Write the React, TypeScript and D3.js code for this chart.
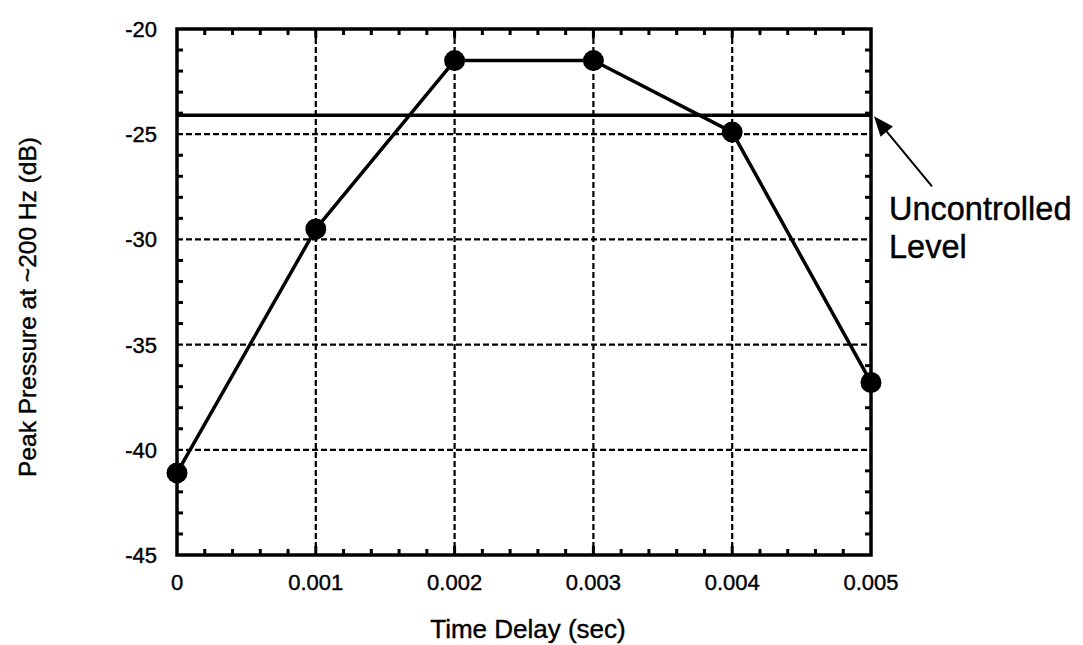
import React from "react";
import * as d3 from "d3";

const delays = [0, 0.001, 0.002, 0.003, 0.004, 0.005];
const pressures = [-41.1, -29.5, -21.5, -21.5, -24.9, -36.8];
const uncontrolledLevel = -24.1;
const xTicks = [0, 0.001, 0.002, 0.003, 0.004, 0.005];
const xTickLabels = ["0", "0.001", "0.002", "0.003", "0.004", "0.005"];
const yTicks = [-45, -40, -35, -30, -25, -20];
const yTickLabels = ["-45", "-40", "-35", "-30", "-25", "-20"];

const W = 1083;
const H = 645;
const L = 177, R = 871, T = 29, B = 555;
const FONT = "'Liberation Sans', Arial, Helvetica, sans-serif";

export default function App() {
  const x = d3.scaleLinear().domain([0, 0.005]).range([L, R]);
  const y = d3.scaleLinear().domain([-45, -20]).range([B, T]);
  const line = d3
    .line<number>()
    .x((_, i) => x(delays[i]))
    .y((d) => y(d));

  const xMinor = d3.range(0, 0.005 + 1e-9, 0.0002).filter((v) => Math.abs(v / 0.001 - Math.round(v / 0.001)) > 1e-6);
  const yMinor = d3.range(-45, -20 + 1e-9, 1).filter((v) => v % 5 !== 0);

  const tipX = x(0.005) + 3;
  const tipY = y(uncontrolledLevel) + 1;
  const tailX = tipX + 58;
  const tailY = tipY + 70;
  const ang = Math.atan2(tipY - tailY, tipX - tailX);
  const hl = 20, hw = 8;
  const bx = tipX - hl * Math.cos(ang);
  const by = tipY - hl * Math.sin(ang);
  const head = [
    [tipX, tipY],
    [bx + hw * Math.sin(ang), by - hw * Math.cos(ang)],
    [bx - hw * Math.sin(ang), by + hw * Math.cos(ang)],
  ];

  const textStroke = { stroke: "#000", strokeWidth: 0.4 };

  return (
    <svg width={W} height={H} style={{ position: "absolute", left: 0, top: 0, background: "#fff" }} fontFamily={FONT}>
      <rect x={0} y={0} width={W} height={H} fill="#fff" />
      {/* gridlines */}
      {xTicks.slice(1, -1).map((t) => (
        <line key={"gx" + t} x1={x(t)} x2={x(t)} y1={T} y2={B} stroke="#000" strokeWidth={2.2} strokeDasharray="6,3" />
      ))}
      {yTicks.slice(1, -1).map((t) => (
        <line key={"gy" + t} x1={L} x2={R} y1={y(t)} y2={y(t)} stroke="#000" strokeWidth={2.2} strokeDasharray="6,3" />
      ))}
      {/* minor ticks */}
      {xMinor.map((t) => (
        <g key={"mx" + t}>
          <line x1={x(t)} x2={x(t)} y1={B} y2={B - 6} stroke="#000" strokeWidth={3} />
          <line x1={x(t)} x2={x(t)} y1={T} y2={T + 6} stroke="#000" strokeWidth={3} />
        </g>
      ))}
      {yMinor.map((t) => (
        <g key={"my" + t}>
          <line x1={L} x2={L + 6} y1={y(t)} y2={y(t)} stroke="#000" strokeWidth={3} />
          <line x1={R} x2={R - 6} y1={y(t)} y2={y(t)} stroke="#000" strokeWidth={3} />
        </g>
      ))}
      {xTicks.slice(1, -1).map((t) => (
        <g key={"Mx" + t}>
          <line x1={x(t)} x2={x(t)} y1={B} y2={B - 9} stroke="#000" strokeWidth={3} />
          <line x1={x(t)} x2={x(t)} y1={T} y2={T + 9} stroke="#000" strokeWidth={3} />
        </g>
      ))}
      {/* frame */}
      <rect x={L} y={T} width={R - L} height={B - T} fill="none" stroke="#000" strokeWidth={3.5} />
      {/* uncontrolled level */}
      <line x1={L} x2={R} y1={y(uncontrolledLevel)} y2={y(uncontrolledLevel)} stroke="#000" strokeWidth={3.5} />
      {/* data */}
      <path d={line(pressures) || ""} fill="none" stroke="#000" strokeWidth={3.5} strokeLinejoin="round" />
      {pressures.map((p, i) => (
        <circle key={"c" + i} cx={x(delays[i])} cy={y(p)} r={10.5} fill="#000" />
      ))}
      {/* tick labels */}
      {xTicks.map((t, i) => (
        <text key={"xl" + t} x={x(t)} y={590} fontSize={22} textAnchor="middle" fill="#000" {...textStroke}>
          {xTickLabels[i]}
        </text>
      ))}
      {yTicks.map((t, i) => (
        <text key={"yl" + t} x={157} y={y(t) + 8} fontSize={22} textAnchor="end" fill="#000" {...textStroke}>
          {yTickLabels[i]}
        </text>
      ))}
      {/* axis titles */}
      <text x={(L + R) / 2 + 4} y={638} fontSize={26} textAnchor="middle" fill="#000" {...textStroke}>
        Time Delay (sec)
      </text>
      <text
        transform={`translate(36, ${(T + B) / 2 + 15}) rotate(-90)`}
        fontSize={24.5}
        textAnchor="middle"
        fill="#000"
        {...textStroke}
      >
        Peak Pressure at ~200 Hz (dB)
      </text>
      {/* annotation */}
      <line x1={tailX} y1={tailY} x2={bx} y2={by} stroke="#000" strokeWidth={2} />
      <polygon points={head.map((p) => p.join(",")).join(" ")} fill="#000" />
      <text x={889} y={220} fontSize={32.5} fill="#000" {...textStroke}>
        Uncontrolled
      </text>
      <text x={889} y={258} fontSize={32.5} fill="#000" {...textStroke}>
        Level
      </text>
    </svg>
  );
}
